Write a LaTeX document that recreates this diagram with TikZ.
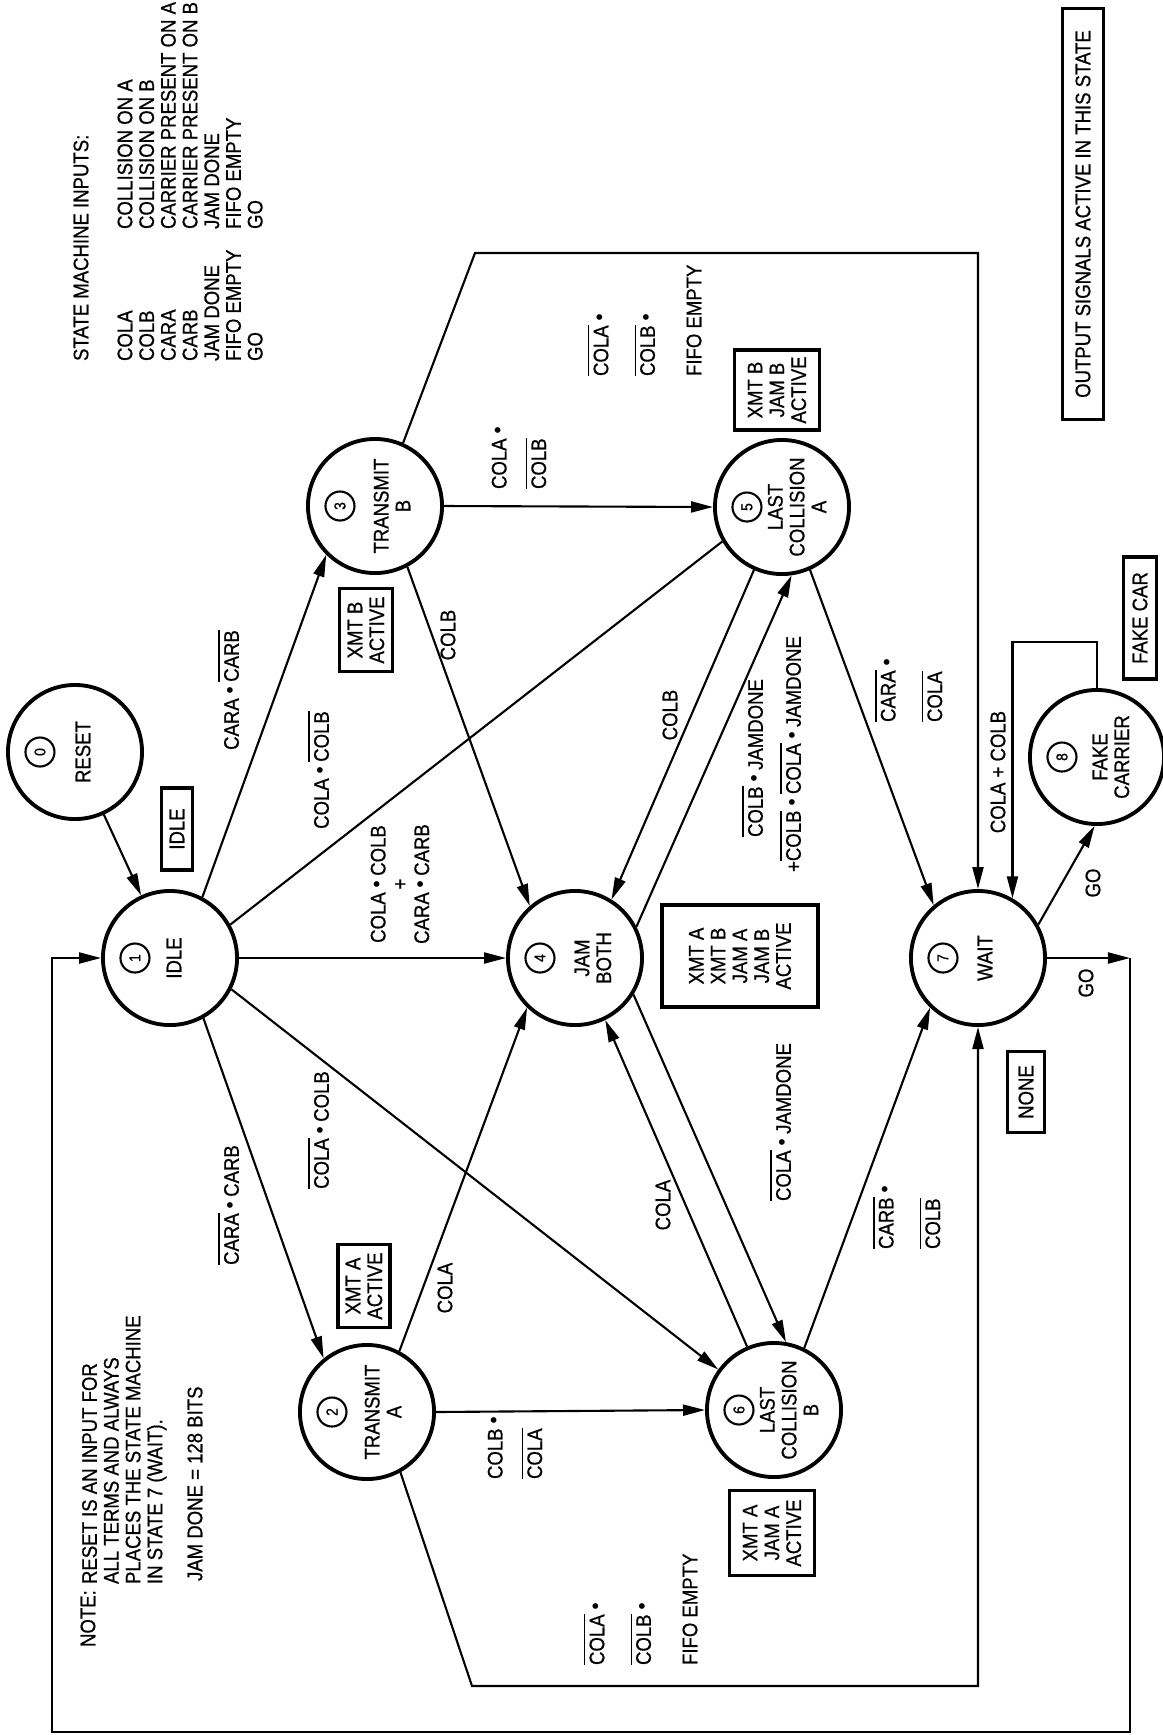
\documentclass[tikz,border=0pt]{standalone}
\usepackage{fontspec}
\setmainfont{Liberation Sans}[FakeStretch=0.88,FakeBold=0.7]
\usepackage{graphicx}
\usetikzlibrary{arrows.meta}
\newcommand{\nb}[1]{$\overline{\mbox{#1}}$}
\newcommand{\andd}{\kern1.2pt\raisebox{1.6pt}{\scalebox{0.6}{$\bullet$}}\kern1.2pt}
\begin{document}
\begin{tikzpicture}[x=0.01cm,y=-0.01cm,line width=0.6pt,
    font=\fontsize{6}{6.2}\selectfont,
    >={Triangle[length=0.22cm,width=0.11cm]},
    state/.style={draw,circle,line width=1.1pt,minimum size=1.34cm,inner sep=0pt},
    num/.style={draw,circle,line width=0.6pt,minimum size=0.29cm,inner sep=0pt,
        rotate=90,font=\fontsize{4.5}{5}\selectfont},
    txt/.style={rotate=90,inner sep=0pt},
    outbox/.style={draw,line width=0.9pt,rotate=90,align=center,inner sep=1pt}]
  \useasboundingbox (0,0) rectangle (1163,1735);

  % states
  \foreach \n/\pos/\name/\off in {0/{75,752}/RESET/.08cm, 1/{170,958}/IDLE/.04cm,
      2/{367,1412}/{TRANSMIT\\A}/.16cm, 3/{375,506}/{TRANSMIT\\B}/.17cm,
      4/{575,958}/{JAM\\BOTH}/.18cm, 5/{782,507}/{LAST\\COLLISION\\A}/.15cm,
      6/{774,1410}/{LAST\\COLLISION\\B}/.15cm, 7/{978,958}/WAIT/.07cm,
      8/{1097,757}/{FAKE\\CARRIER}/.14cm}
  {
    \node[state] (s\n) at (\pos) {};
    \node[num] (n\n) at ([xshift=-.35cm]s\n.center) {\n};
    \node[txt,align=center] (t\n) at ([xshift=\off]s\n.center) {\name};
  }

  % output boxes
  \node[outbox,minimum width=.82cm,minimum height=.31cm] (o1) at (177,829) {IDLE};
  \node[outbox,minimum width=.83cm,minimum height=.53cm] (o3) at (366,630) {XMT B\\ACTIVE};
  \node[outbox,minimum width=.83cm,minimum height=.52cm] (o2) at (364,1286) {XMT A\\ACTIVE};
  \node[outbox,minimum width=1.02cm,minimum height=1.56cm] (o4) at (740,956) {XMT A\\XMT B\\JAM A\\JAM B\\ACTIVE};
  \node[outbox,minimum width=.80cm,minimum height=.85cm] (o5) at (777,390) {XMT B\\JAM B\\ACTIVE};
  \node[outbox,minimum width=.85cm,minimum height=.85cm] (o6) at (772,1533) {XMT A\\JAM A\\ACTIVE};
  \node[outbox,minimum width=.81cm,minimum height=.37cm] (o7) at (1026,1092) {NONE};
  \node[outbox,minimum width=1.22cm,minimum height=.33cm] (o8) at (1140,618) {FAKE CAR};
  \node[outbox,minimum width=4.10cm,minimum height=.41cm] (key) at (1083,214) {OUTPUT SIGNALS ACTIVE IN THIS STATE};

  % inputs list
  \node[txt,anchor=west] (inhead) at (81,362) {STATE MACHINE INPUTS:};
  \foreach \sig/\what [count=\i from 0] in {COLA/COLLISION ON A, COLB/COLLISION ON B,
      CARA/CARRIER PRESENT ON A, CARB/CARRIER PRESENT ON B, JAM DONE/JAM DONE,
      FIFO EMPTY/FIFO EMPTY, GO/GO}
  {
    \node[txt,anchor=west] (in\i) at (125+21.7*\i,362) {\sig};
    \node[txt,anchor=west] (def\i) at (125+21.7*\i,230) {\what};
  }

  % note
  \node[txt,anchor=west] (note) at (88,1648) {NOTE:};
  \node[txt,anchor=north west,align=left] (notetxt) at (81,1585)
    {RESET IS AN INPUT FOR\\ALL TERMS AND ALWAYS\\PLACES THE STATE MACHINE\\IN STATE 7 (WAIT).};
  \node[txt,anchor=west] (jamnote) at (195,1582) {JAM DONE = 128 BITS};

  % transitions
  \coordinate (topbend) at (475,253);
  \coordinate (botbend) at (472,1686);
  \coordinate (goTR) at (1130,958);
  \coordinate (goBR) at (1130,1732);
  \coordinate (goBL) at (52,1732);
  \coordinate (goTL) at (52,958);
  \draw[->] (s0) -- (s1);
  \draw[->] (s1.62) -- (s3.225);
  \draw[->] (s1.east) -- (s4.west);
  \draw (s1.29) -- (s5.210);
  \draw[->] (s1.333) -- (s6.144);
  \draw[->] (s1.299) -- (s2.129);
  \draw[->] (s3.east) -- (s5.west);
  \draw[->] (s3.298) -- (s4.131);
  \draw[->] (s3.66) -- (topbend) -| (s7.north);
  \draw[->] (s2.east) -- (s6.west);
  \draw[->] (s2.62) -- (s4.226);
  \draw[->] (s2.299) -- (botbend) -| (s7.south);
  \draw[->] (s4.328) -- (s6.80);
  \draw[->] (s6.113) -- (s4.296);
  \draw[->] (s5.246) -- (s4.58);
  \draw[->] (s4.27) -- (s5.278);
  \draw[->] (s5.294) -- (s7.130);
  \draw[->] (s6.64) -- (s7.226);
  \draw[->] (s7.29) -- (s8.268);
  \draw[->] (s8.north) -- ++(0,-46) -| (s7.60);
  \draw[->] (s7.east) -- (goTR);
  \draw[->] (goTR) -- (goBR) -- (goBL) -- (goTL) -- (s1.west);

  % conditions
  \node[txt] (cA) at (228,690) {CARA\andd\nb{CARB}};
  \node[txt] (cB) at (318,770) {COLA\andd\nb{COLB}};
  \node[txt,align=center] (cC) at (400,884) {COLA\andd COLB\\+\\CARA\andd CARB};
  \node[txt] (cD) at (228,1205) {\nb{CARA}\andd CARB};
  \node[txt] (cE) at (318,1130) {\nb{COLA}\andd COLB};
  \node[txt] (cF) at (448,635) {COLB};
  \node[txt] (cG) at (670,715) {COLB};
  \node[txt,anchor=west] (cH) at (752,838) {\nb{COLB}\andd JAMDONE};
  \node[txt,anchor=west] (cI) at (790,873) {+\nb{COLB}\andd\nb{COLA}\andd JAMDONE};
  \node[txt] (cJ) at (445,1288) {COLA};
  \node[txt] (cK) at (663,1205) {COLA};
  \node[txt] (cL) at (780,1122) {\nb{COLA}\andd JAMDONE};
  \node[txt,anchor=west,align=left] (cM) at (908,723) {\nb{CARA}\andd\\[6pt]\nb{COLA}};
  \node[txt,anchor=west,align=left] (cN) at (906,1250) {\nb{CARB}\andd\\[6pt]\nb{COLB}};
  \node[txt,anchor=west,align=left] (cO) at (519,490) {COLA\andd\\[4pt]\nb{COLB}};
  \node[txt,anchor=west,align=left] (cP) at (515,1480) {COLB\andd\\[4pt]\nb{COLA}};
  \node[txt,anchor=west,align=left] (cQ) at (640,1666) {\nb{COLA}\andd\\[6pt]\nb{COLB}\andd\\[7pt]FIFO EMPTY};
  \node[txt,anchor=west,align=left] (cR) at (644,377) {\nb{COLA}\andd\\[6pt]\nb{COLB}\andd\\[7pt]FIFO EMPTY};
  \node[txt] (cS) at (998,772) {COLA + COLB};
  \node[txt] (cT) at (1093,883) {GO};
  \node[txt] (cU) at (1086,983) {GO};
\end{tikzpicture}
\end{document}
